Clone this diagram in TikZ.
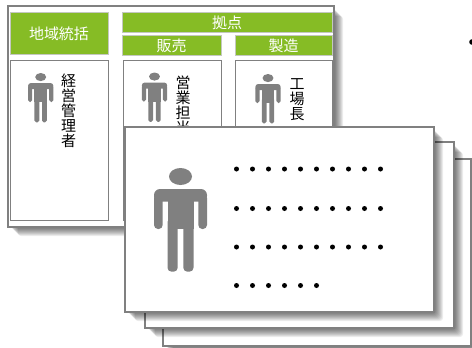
\documentclass[tikz,border=0pt]{standalone}
\usepackage{fontspec}
\setmainfont{Noto Sans CJK JP}
\definecolor{leaf}{HTML}{86BC25}
\definecolor{edge}{HTML}{808080}
\definecolor{paleedge}{HTML}{C4C8C0}
\newcommand{\softshadow}[4]{%
  \foreach \d in {0,1,...,9}{
    \fill[black,opacity=.075,rounded corners=3pt]
      ({#1+1+\d},{#2+1+\d}) rectangle ({#3+\d},{#4+\d});
  }}
\newcommand{\personicon}[3]{%
  \begin{scope}[shift={(#1,#2)},scale=#3]
    \fill[edge] (0,8.5) ellipse [x radius=11.5,y radius=8.5];
    \fill[edge,rounded corners=#3*6pt] (-26.5,21) rectangle (26.5,33.7);
    \fill[edge,rounded corners=#3*4pt] (-26.5,26) rectangle (-17.8,61);
    \fill[edge,rounded corners=#3*4pt] (17.8,26) rectangle (26.5,61);
    \fill[edge] (-13,25) rectangle (13,61);
    \fill[edge,rounded corners=#3*4pt] (-13,50) rectangle (-2.8,103.7);
    \fill[edge,rounded corners=#3*4pt] (2.8,50) rectangle (13,103.7);
  \end{scope}}
\newcommand{\dotrow}[2]{%
  \foreach \k in {1,...,#2}{ \fill[black] ({220.5+16*\k},#1) circle (2.5); }}
\tikzset{
  greenbox/.style={draw=paleedge,line width=1pt,fill=leaf,text=white,font=\fontsize{15}{15}\selectfont,inner sep=0pt},
  whitebox/.style={draw=edge,line width=1pt,fill=white},
  sheet/.style={draw=edge,line width=1.5pt,fill=white},
  vlabel/.style={font=\fontsize{15}{15}\selectfont,align=center,inner sep=0pt,anchor=north,text=black}
}
\begin{document}
\begin{tikzpicture}[x=1pt,y=-1pt]
\clip (0,0) rectangle (472,348);
\fill[white] (0,0) rectangle (472,348);
% back panel
\softshadow{8}{6}{334}{227}
\draw[sheet] (8,6) rectangle (334,227);
\node[greenbox,minimum width=98pt,minimum height=42pt] (regional) at (59,33.5) {地域統括};
\node[greenbox,minimum width=210pt,minimum height=20pt] (base) at (227,22.5) {拠点};
\node[greenbox,minimum width=99pt,minimum height=20pt] (sales) at (171.5,45.5) {販売};
\node[greenbox,minimum width=97pt,minimum height=20pt] (plant) at (283.5,45.5) {製造};
\draw[whitebox] (10.5,60) rectangle (108.5,220);
\draw[whitebox] (123.5,60) rectangle (221.5,220);
\draw[whitebox] (235,60) rectangle (332.5,220);
\personicon{40.7}{73}{.477}
\personicon{154.5}{72.5}{.477}
\personicon{268}{74}{.477}
\node[vlabel] (manager) at (68.5,73.5) {\baselineskip=15pt 経\\営\\管\\理\\者};
\node[vlabel] (salesrep) at (183,76) {\baselineskip=15pt 営\\業\\担\\当};
\node[vlabel] (chief) at (297,78) {\baselineskip=15pt 工\\場\\長};
\fill[black] (472,42) circle (2.8);
% stacked sheets
\softshadow{163}{159}{471}{346}
\draw[sheet] (163,159) rectangle (471,346);
\softshadow{145}{142}{454}{328}
\draw[sheet] (145,142) rectangle (454,328);
\softshadow{125}{127}{434}{312}
\draw[sheet] (125,127) rectangle (434,312);
\personicon{180.5}{168}{1}
\dotrow{169}{10}
\dotrow{208.5}{10}
\dotrow{247}{10}
\dotrow{285.5}{6}
\end{tikzpicture}
\end{document}
